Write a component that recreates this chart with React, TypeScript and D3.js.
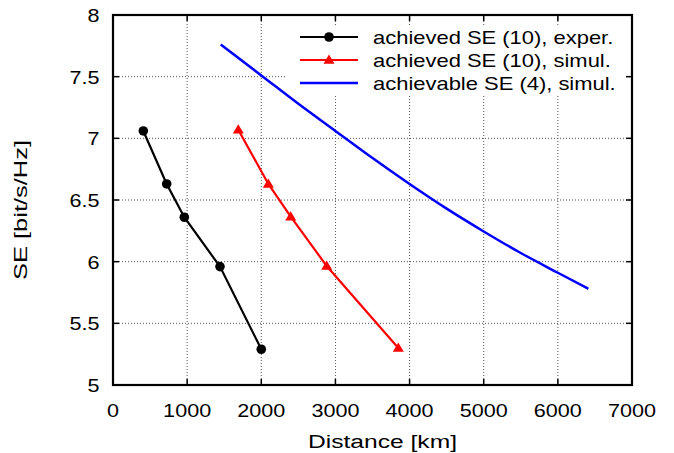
import React from "react";
import * as d3 from "d3";

const expDistance = [409, 724, 962, 1443, 2000];
const expSE = [7.06, 6.63, 6.36, 5.96, 5.29];
const simDistance = [1690, 2095, 2397, 2882, 3848];
const simSE = [7.07, 6.63, 6.365, 5.965, 5.3];
const achDistance = [1453, 2000, 2500, 3000, 3500, 4000, 4500, 5000, 5500, 6000, 6411];
const achSE = [7.76, 7.51, 7.28, 7.06, 6.84, 6.63, 6.43, 6.245, 6.07, 5.91, 5.78];
const xTicks = [0, 1000, 2000, 3000, 4000, 5000, 6000, 7000];
const yTicks = [5, 5.5, 6, 6.5, 7, 7.5, 8];
const legendLabels = [
  "achieved SE (10), exper.",
  "achieved SE (10), simul.",
  "achievable SE (4), simul.",
];
const xLabel = "Distance [km]";
const yLabel = "SE [bit/s/Hz]";

const W = 674;
const H = 453;
const L = 113;
const R = 632;
const T = 15;
const B = 385;
const FONT = "'Liberation Sans', Arial, Helvetica, sans-serif";

function STxt({ x, y, sx, anchor, rotate, children }: any) {
  const tr = `translate(${x},${y})${rotate ? ` rotate(${rotate})` : ""} scale(${sx},1)`;
  return (
    <text transform={tr} textAnchor={anchor} fontFamily={FONT} fontSize={18} fill="#000">
      {children}
    </text>
  );
}

function LTxt({ x, y, len, rotate, children }: any) {
  const tr = `translate(${x},${y})${rotate ? ` rotate(${rotate})` : ""}`;
  return (
    <text
      transform={tr}
      x={-len / 2}
      textLength={len}
      lengthAdjust="spacingAndGlyphs"
      fontFamily={FONT}
      fontSize={18}
      fill="#000"
    >
      {children}
    </text>
  );
}

function tri(cx: number, cy: number, s = 5.5) {
  return `M${cx},${cy - s} L${cx + s},${cy + s * 0.7} L${cx - s},${cy + s * 0.7} Z`;
}

export default function App() {
  const x = d3.scaleLinear().domain([0, 7000]).range([L, R]);
  const y = d3.scaleLinear().domain([5, 8]).range([B, T]);
  const line = d3
    .line<[number, number]>()
    .x((d) => x(d[0]))
    .y((d) => y(d[1]));
  const smooth = d3
    .line<[number, number]>()
    .x((d) => x(d[0]))
    .y((d) => y(d[1]))
    .curve(d3.curveMonotoneX);
  const exp = expDistance.map((d, i) => [d, expSE[i]] as [number, number]);
  const sim = simDistance.map((d, i) => [d, simSE[i]] as [number, number]);
  const ach = achDistance.map((d, i) => [d, achSE[i]] as [number, number]);

  const legX1 = 300;
  const legX2 = 358;
  const legRows = [37, 60, 83];

  return (
    <svg width={W} height={H} style={{ position: "absolute", left: 0, top: 0, background: "#fff" }}>
      <rect x={0} y={0} width={W} height={H} fill="#fff" />
      {/* grid */}
      <g stroke="#555" strokeWidth={1} strokeDasharray="1,2">
        {xTicks.slice(1, -1).map((t) => (
          <line key={"gx" + t} x1={x(t)} x2={x(t)} y1={T} y2={B} />
        ))}
        {yTicks.slice(1, -1).map((t) => (
          <line key={"gy" + t} x1={L} x2={R} y1={y(t)} y2={y(t)} />
        ))}
      </g>
      {/* ticks */}
      <g stroke="#000" strokeWidth={1.5}>
        {xTicks.map((t) => (
          <g key={"tx" + t}>
            <line x1={x(t)} x2={x(t)} y1={B} y2={B - 6} />
            <line x1={x(t)} x2={x(t)} y1={T} y2={T + 6} />
          </g>
        ))}
        {yTicks.map((t) => (
          <g key={"ty" + t}>
            <line x1={L} x2={L + 6} y1={y(t)} y2={y(t)} />
            <line x1={R} x2={R - 6} y1={y(t)} y2={y(t)} />
          </g>
        ))}
      </g>
      {/* legend background */}
      <rect x={287} y={26} width={337} height={69} fill="#fff" />
      {/* series */}
      <path d={smooth(ach) || ""} fill="none" stroke="#0000ff" strokeWidth={2.5} />
      <path d={line(sim) || ""} fill="none" stroke="#ff0000" strokeWidth={2.2} />
      {sim.map((d, i) => (
        <path key={"s" + i} d={tri(x(d[0]), y(d[1]))} fill="#ff0000" />
      ))}
      <path d={line(exp) || ""} fill="none" stroke="#000" strokeWidth={2.2} />
      {exp.map((d, i) => (
        <circle key={"e" + i} cx={x(d[0])} cy={y(d[1])} r={4.8} fill="#000" />
      ))}
      {/* frame */}
      <rect x={L} y={T} width={R - L} height={B - T} fill="none" stroke="#000" strokeWidth={2.2} />
      {/* tick labels */}
      {xTicks.map((t) => (
        <STxt key={"lx" + t} x={x(t)} y={B + 31.5} sx={1.2} anchor="middle">
          {String(t)}
        </STxt>
      ))}
      {yTicks.map((t) => (
        <STxt key={"ly" + t} x={99.5} y={y(t) + 7} sx={1.2} anchor="end">
          {String(t)}
        </STxt>
      ))}
      {/* axis labels */}
      <LTxt x={382.5} y={448} len={149}>
        {xLabel}
      </LTxt>
      <LTxt x={26.7} y={210} len={140} rotate={-90}>
        {yLabel}
      </LTxt>
      {/* legend */}
      <line x1={legX1} x2={legX2} y1={legRows[0]} y2={legRows[0]} stroke="#000" strokeWidth={2.2} />
      <circle cx={(legX1 + legX2) / 2} cy={legRows[0]} r={4.8} fill="#000" />
      <line x1={legX1} x2={legX2} y1={legRows[1]} y2={legRows[1]} stroke="#ff0000" strokeWidth={2.2} />
      <path d={tri((legX1 + legX2) / 2, legRows[1])} fill="#ff0000" />
      <line x1={legX1} x2={legX2} y1={legRows[2]} y2={legRows[2]} stroke="#0000ff" strokeWidth={2.5} />
      {legendLabels.map((s, i) => (
        <STxt key={"lg" + i} x={373} y={legRows[i] + 6.5} sx={1.22} anchor="start">
          {s}
        </STxt>
      ))}
    </svg>
  );
}
